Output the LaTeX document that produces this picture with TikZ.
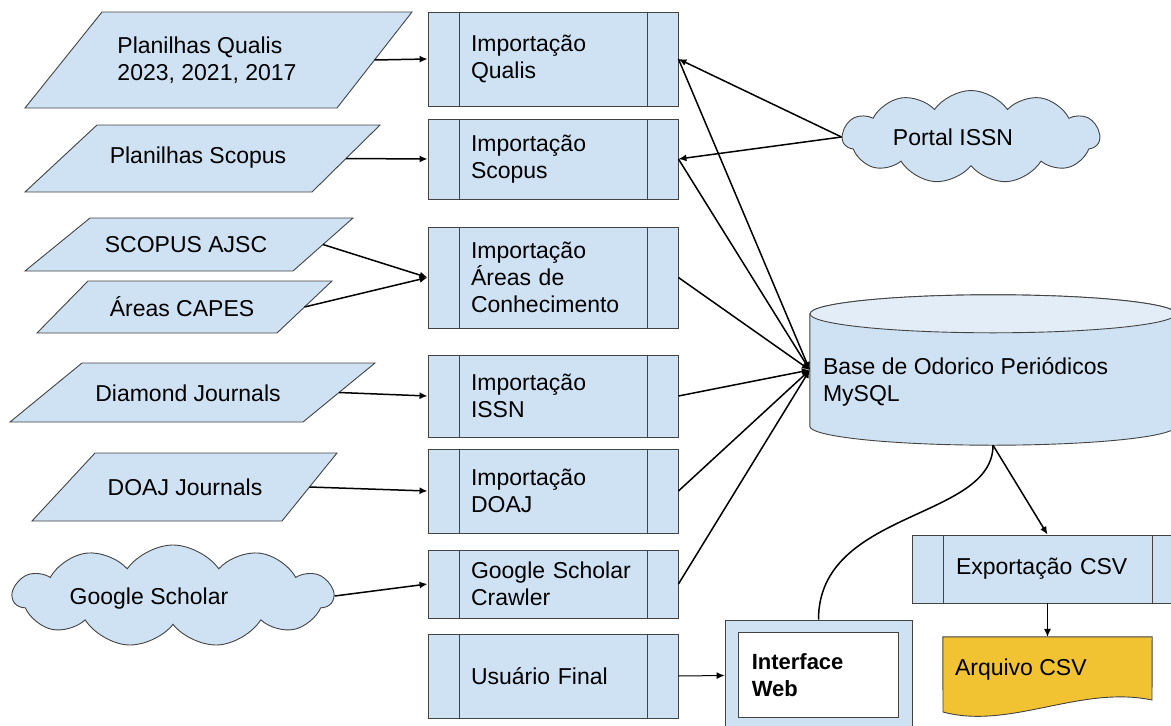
\documentclass[tikz,border=0pt]{standalone}
\usepackage{fontspec}
\setmainfont{Liberation Sans}
\usetikzlibrary{shapes.symbols,arrows.meta}
\definecolor{boxblue}{HTML}{CFE2F3}
\definecolor{capblue}{HTML}{E3EDF8}
\definecolor{csvyellow}{HTML}{F1C232}
\definecolor{edgegray}{HTML}{434343}
\tikzset{
  proc/.style={draw=edgegray, line width=0.9pt, fill=boxblue, minimum width=250pt,
    text width=164pt, align=left,
    path picture={
      \draw[edgegray, line width=0.9pt] ([xshift=31pt]path picture bounding box.north west) -- ([xshift=31pt]path picture bounding box.south west);
      \draw[edgegray, line width=0.9pt] ([xshift=-31pt]path picture bounding box.north east) -- ([xshift=-31pt]path picture bounding box.south east);}},
  dataio/.style={draw=edgegray, line width=0.9pt, fill=boxblue},
  cloudy/.style={cloud, cloud puffs=11, cloud puff arc=110, cloud ignores aspect, draw=edgegray, line width=0.9pt, fill=boxblue},
  conn/.style={line width=1.5pt, -{Latex[length=8pt,width=7pt]}},
}
\begin{document}
\begin{tikzpicture}[x=1pt, y=-1pt, font=\fontsize{23}{27}\selectfont]
\clip (0,0) rectangle (1171,726);

\foreach \nm/\xa/\xb/\xc/\xd/\ya/\yb in {pq/102/412/337/25/12/108, ps/97/380/312/25/125/192,
    ajsc/90/353/293/25/218/271, capes/88/332/277/37/281/333,
    diam/82/375/303/10/363/422, doaj/95/337/282/32/453/521}
{
  \draw[dataio] (\xa,\ya) -- (\xb,\ya) -- (\xc,\yb) -- (\xd,\yb) -- cycle;
  \coordinate (\nm-r) at ({(\xb+\xc)/2},{(\ya+\yb)/2});
}
\node[align=left] (pq) at (207,60) {Planilhas Qualis\\2023, 2021, 2017};
\node (ps) at (198,158) {Planilhas Scopus};
\node (ajsc) at (186,245) {SCOPUS AJSC};
\node (capes) at (182,307) {Áreas CAPES};
\node (diam) at (188,393) {Diamond Journals};
\node (doaj) at (185,487) {DOAJ Journals};
\node[cloudy, minimum width=320pt, minimum height=102pt, label={[xshift=-24pt, yshift=-3pt, inner sep=0pt]center:Google Scholar}] (gsch) at (173,596) {};

\node[proc, minimum height=94pt] (iq) at (553,59) {Importação\\Qualis};
\node[proc, minimum height=80pt] (is) at (553,159) {Importação\\Scopus};
\node[proc, minimum height=101pt] (ia) at (553,277.5) {Importação\\Áreas de\\Conhecimento};
\node[proc, minimum height=82pt] (ii) at (553,396) {Importação\\ISSN};
\node[proc, minimum height=84pt] (id) at (553,491) {Importação\\DOAJ};
\node[proc, minimum height=68pt] (ig) at (553,584) {Google Scholar\\Crawler};
\node[proc, minimum height=84pt] (iu) at (553,676) {Usuário Final};

\node[cloudy, minimum width=257pt, minimum height=93pt, label={[xshift=-18pt, inner sep=0pt]center:Portal ISSN}] (portal) at (971,137) {};

\node[minimum width=366pt, minimum height=150pt, inner sep=0pt] (base) at (993,370) {};
\draw[edgegray, line width=0.9pt, fill=boxblue] ([yshift=-19pt]base.north west) -- ([yshift=19pt]base.south west)
  arc[start angle=180, end angle=360, x radius=183pt, y radius=19pt] -- ([yshift=-19pt]base.north east)
  arc[start angle=0, end angle=180, x radius=183pt, y radius=19pt] -- cycle;
\draw[edgegray, line width=0.9pt, fill=capblue] ([yshift=-19pt]base.north) ellipse[x radius=183pt, y radius=19pt];
\node[anchor=west, align=left, inner sep=0pt] (basetxt) at ([xshift=13pt, yshift=-12pt]base.west) {Base de Odorico Periódicos\\MySQL};

\node[proc, minimum width=271pt, text width=183pt, minimum height=68pt] (exp) at (1047.5,569) {Exportação CSV};

\node[minimum width=209pt, minimum height=66pt, inner sep=0pt] (csv) at (1047.5,670) {};
\draw[edgegray, line width=0.9pt, fill=csvyellow] (csv.north west) -- (csv.north east) -- (1152,700)
  .. controls (1080,685) and (1010,730) .. (943,712) -- cycle;
\node[anchor=west, inner sep=0pt] (csvtxt) at ([xshift=12pt]csv.west) {Arquivo CSV};

\node[draw=edgegray, line width=0.9pt, fill=boxblue, minimum width=187pt, minimum height=111pt] (web) at (818.5,675.5) {};
\draw[edgegray, line width=0.9pt, fill=white] ([shift={(14pt,-13pt)}]web.north west) rectangle ([shift={(-14pt,14pt)}]web.south east);
\node[anchor=west, align=left, inner sep=0pt, font=\fontsize{22}{27}\selectfont\bfseries] (webtxt) at ([xshift=27pt]web.west) {Interface\\Web};

\draw[conn] (pq-r) -- (iq.west);
\draw[conn] (ps-r) -- (is.west);
\draw[conn] (ajsc-r) -- (ia.west);
\draw[conn] (capes-r) -- (ia.west);
\draw[conn] (diam-r) -- (ii.west);
\draw[conn] (doaj-r) -- (id.west);
\draw[conn] (gsch.east) -- (ig.west);
\draw[conn] (portal.west) -- (iq.east);
\draw[conn] (portal.west) -- (is.east);
\foreach \n in {iq,is,ia,ii,id,ig}
  \draw[conn] (\n.east) -- (base.west);
\draw[conn] (base.south) -- (exp.north);
\draw[conn, line width=1pt] (exp.south) -- (csv.north);
\draw[conn, line width=1pt] (iu.east) -- (web.west);
\draw[line width=1.5pt] (web.north) .. controls +(0,-110) and +(0,75) .. (base.south);
\end{tikzpicture}
\end{document}
